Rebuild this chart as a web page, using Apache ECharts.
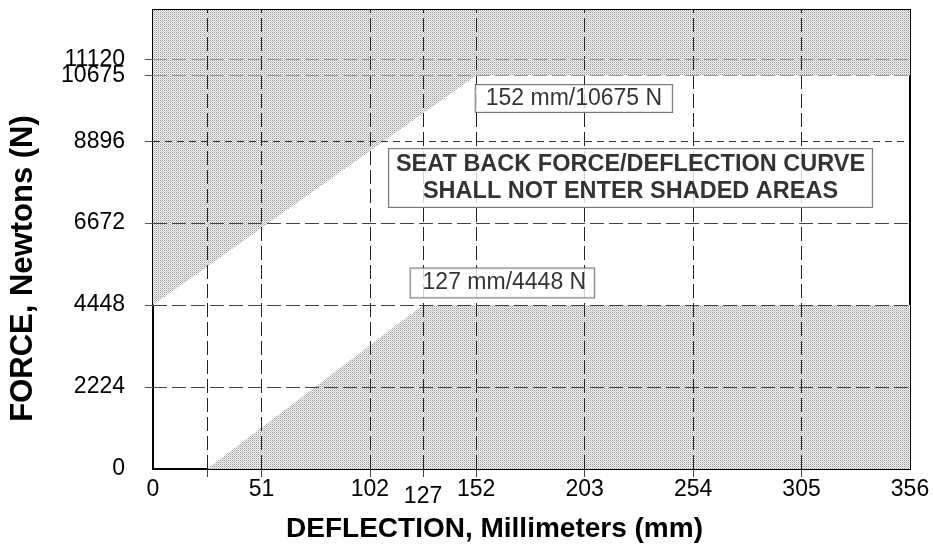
<!DOCTYPE html>
<html>
<head>
<meta charset="utf-8">
<script src="https://cdn.jsdelivr.net/npm/echarts@6/dist/echarts.min.js"></script>
<style>
  html, body { margin: 0; padding: 0; background: #fff; }
  #chart { width: 933px; height: 554px; }
</style>
</head>
<body>
<div id="chart"></div>
<script>
// axis values (mm / N)
const xLabelValues = [0, 51, 102, 127, 152, 203, 254, 305, 356];
const xTickValues = [25.4, 51, 102, 127, 152, 203, 254, 305];
const yLabelValues = [0, 2224, 4448, 6672, 8896, 10675];
const yLabelTop = [11120]; // sits too close to 10675, drawn on a twin axis
const yTickValues = [2224, 4448, 6672, 8896, 10675, 11120];
const xGridValues = [25.4, 51, 102, 127, 152, 203, 254, 305];
const yGridValues = [2224, 4448, 6672, 8896, 10675, 11120];

// corridor boundaries: upper shade is above, lower shade is below
const upperBoundary = [[0, 4448], [152, 10675], [356, 10675]];
const lowerBoundary = [[25.4, 0], [127, 4448], [356, 4448]];

// annotation anchors
const noteUpper = [152, 10675];
const noteLower = [127, 4448];
const noteMain = [224.8, 7880];

const FONT = "'Liberation Sans', Arial, sans-serif";
const Y_MAX = 12455;

// dotted gray fill like the old plotter stipple
function stipple() {
  const c = document.createElement('canvas');
  c.width = 2;
  c.height = 2;
  const ctx = c.getContext('2d');
  ctx.fillStyle = '#f2f2f2';
  ctx.fillRect(0, 0, 2, 2);
  ctx.fillStyle = '#9c9c9c';
  ctx.fillRect(0, 0, 1, 1);
  ctx.fillStyle = '#cccccc';
  ctx.fillRect(1, 1, 1, 1);
  return c;
}

const chart = echarts.init(document.getElementById('chart'));
const pattern = { image: stipple(), repeat: 'repeat' };

// 10675/11120 run through the shade in grey, 8896 has the short dashes
function yLineStyle(v) {
  if (v > 10000) return { color: '#9a9a9a' };
  if (v === 8896) return { color: '#333', type: [7, 5] };
  return { color: '#444' };
}

const gridLines = []
  .concat(xGridValues.map(v => ({ xAxis: v })))
  .concat(yGridValues.map(v => ({ yAxis: v, lineStyle: yLineStyle(v) })));

const yLabelStyle = {
  margin: 28,
  hideOverlap: false,
  fontFamily: FONT, fontSize: 23, lineHeight: 15, color: '#000',
  formatter: v => String(v)
};

chart.setOption({
  animation: false,
  backgroundColor: '#fff',
  grid: {
    left: 153, right: 23, top: 10, bottom: 85,
    show: true, borderColor: '#000', borderWidth: 2,
    backgroundColor: '#fff',
    outerBoundsMode: 'none'
  },
  xAxis: {
    type: 'value',
    min: 0,
    max: 356,
    name: 'DEFLECTION, Millimeters (mm)',
    nameLocation: 'middle',
    nameGap: 46,
    nameTextStyle: {
      fontFamily: FONT, fontSize: 28, fontWeight: 'bold', color: '#000',
      padding: [0, 74, 0, 0]
    },
    axisLine: { lineStyle: { color: '#000', width: 2 } },
    axisTick: { show: true, length: 8, customValues: xTickValues, lineStyle: { color: '#444' } },
    axisLabel: {
      customValues: xLabelValues,
      margin: 9,
      hideOverlap: false,
      fontFamily: FONT, fontSize: 23, color: '#000',
      formatter: v => (v === 127 ? '{low|127}' : String(v)),
      rich: {
        low: { fontFamily: FONT, fontSize: 23, color: '#000', padding: [7, 0, 0, 0] }
      }
    },
    splitLine: { show: false }
  },
  yAxis: [
    {
      type: 'value',
      min: 0,
      max: Y_MAX,
      name: 'FORCE, Newtons (N)',
      nameLocation: 'middle',
      nameGap: 114,
      nameTextStyle: {
        fontFamily: FONT, fontSize: 31, fontWeight: 'bold', color: '#000',
        padding: [0, 58, 0, 0]
      },
      axisLine: { show: true, lineStyle: { color: '#000', width: 2 } },
      axisTick: { show: true, length: 8, customValues: yTickValues, lineStyle: { color: '#555' } },
      axisLabel: Object.assign({ customValues: yLabelValues }, yLabelStyle),
      splitLine: { show: false }
    },
    {
      type: 'value',
      min: 0,
      max: Y_MAX,
      position: 'left',
      offset: 0,
      axisLine: { show: false },
      axisTick: { show: false },
      axisLabel: Object.assign({ customValues: yLabelTop }, yLabelStyle),
      splitLine: { show: false }
    }
  ],
  series: [
    {
      type: 'line',
      data: upperBoundary,
      symbol: 'none',
      silent: true,
      z: 1,
      lineStyle: { width: 0, opacity: 0 },
      areaStyle: { color: pattern, opacity: 1, origin: 'end' }
    },
    {
      type: 'line',
      data: lowerBoundary,
      symbol: 'none',
      silent: true,
      z: 1,
      lineStyle: { width: 0, opacity: 0 },
      areaStyle: { color: pattern, opacity: 1, origin: 'start' }
    },
    {
      type: 'line',
      data: [],
      z: 2,
      markLine: {
        silent: true,
        symbol: 'none',
        label: { show: false },
        lineStyle: { color: '#222', width: 1, type: [14, 5] },
        data: gridLines
      }
    },
    {
      type: 'scatter',
      z: 5,
      symbolSize: 1,
      itemStyle: { color: 'rgba(0,0,0,0)' },
      silent: true,
      label: {
        show: true,
        fontFamily: FONT,
        color: '#000',
        backgroundColor: '#fff',
        borderColor: '#555',
        borderWidth: 1
      },
      data: [
        {
          value: noteUpper,
          label: {
            formatter: '152 mm/10675 N', color: '#000',
            position: [0, 10], align: 'left', verticalAlign: 'top',
            fontSize: 23, lineHeight: 25, padding: [1, 10, 1, 10]
          }
        },
        {
          value: noteLower,
          label: {
            formatter: '127 mm/4448 N', color: '#000',
            position: [-12, -7], align: 'left', verticalAlign: 'bottom',
            fontSize: 23, lineHeight: 25, padding: [2, 8, 2, 12]
          }
        },
        {
          value: noteMain,
          label: {
            formatter: 'SEAT BACK FORCE/DEFLECTION CURVE\nSHALL NOT ENTER SHADED AREAS',
            color: '#000',
            position: [0, 0], align: 'center', verticalAlign: 'middle',
            fontSize: 23.5, fontWeight: 'bold', lineHeight: 27, padding: [2, 7, 2, 7]
          }
        }
      ]
    }
  ]
});
</script>
</body>
</html>
